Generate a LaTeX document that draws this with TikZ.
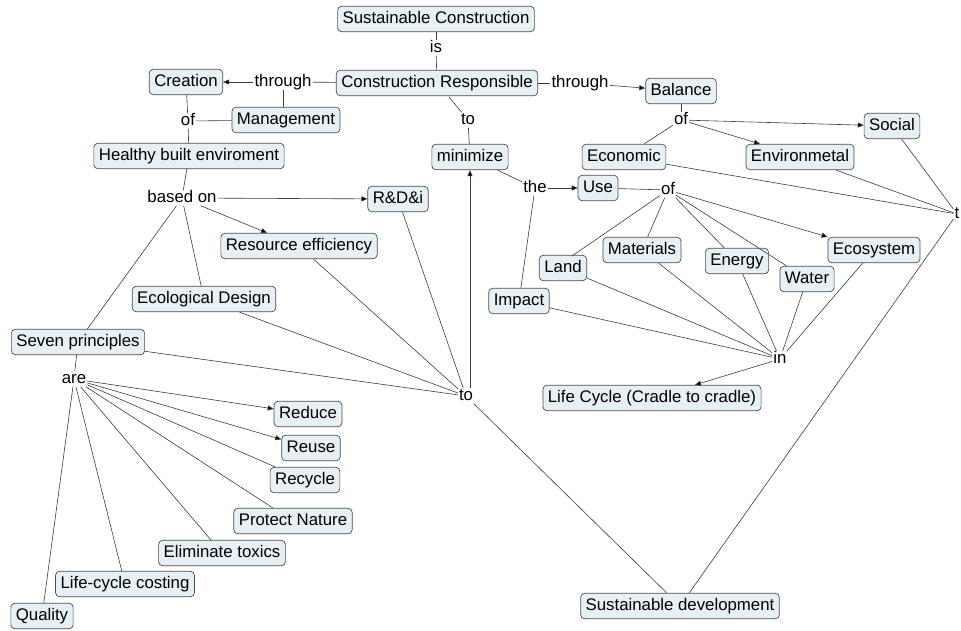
\documentclass[tikz,border=0pt]{standalone}
\usepackage{fontspec}
\setmainfont{Liberation Sans}
\usetikzlibrary{arrows.meta}
\definecolor{boxfill}{RGB}{230,240,245}
\definecolor{boxline}{RGB}{75,75,75}
\definecolor{edgecol}{RGB}{60,60,60}
\begin{document}
\begin{tikzpicture}[x=1pt,y=-1pt,
  font=\fontsize{16.8}{18}\selectfont,
  concept/.style={draw=boxline, fill=boxfill, rounded corners=4pt, line width=0.7pt,
    inner xsep=5pt, inner ysep=5pt, text height=12pt, text depth=3.5pt},
  lab/.style={inner sep=1pt, text height=11pt, text depth=2pt},
  ln/.style={draw=edgecol, line width=0.6pt},
  arr/.style={ln, -{Triangle[length=6pt,width=5pt,fill=black]}}]
\useasboundingbox (0,0) rectangle (961,630);

% concepts
\node[concept] (sc) at (436,19) {Sustainable Construction};
\node[concept] (cr) at (437,83) {Construction Responsible};
\node[concept] (creation) at (186,82) {Creation};
\node[concept] (mgmt) at (286,120) {Management};
\node[concept] (hbe) at (189,156) {Healthy built enviroment};
\node[concept] (mini) at (470,157) {minimize};
\node[concept] (bal) at (681,91) {Balance};
\node[concept] (soc) at (892,126) {Social};
\node[concept] (eco) at (624,157) {Economic};
\node[concept] (env) at (800,157) {Environmetal};
\node[concept] (use) at (598,188) {Use};
\node[concept] (land) at (563,268) {Land};
\node[concept] (mat) at (642,250) {Materials};
\node[concept] (ener) at (737,261) {Energy};
\node[concept] (wat) at (807,279) {Water};
\node[concept] (ecos) at (874,250) {Ecosystem};
\node[concept] (imp) at (519,301) {Impact};
\node[concept] (lc) at (652,398) {Life Cycle (Cradle to cradle)};
\node[concept] (sd) at (680,606) {Sustainable development};
\node[concept] (rdi) at (398,199) {R\&D\&i};
\node[concept] (re) at (299,246) {Resource efficiency};
\node[concept] (ed) at (204,299) {Ecological Design};
\node[concept] (sp) at (78,342) {Seven principles};
\node[concept] (red) at (308,414) {Reduce};
\node[concept] (reu) at (311,448) {Reuse};
\node[concept] (rec) at (305,480) {Recycle};
\node[concept] (pn) at (293,521) {Protect Nature};
\node[concept] (et) at (222,553) {Eliminate toxics};
\node[concept] (lcc) at (125,584) {Life-cycle costing};
\node[concept] (qual) at (42,616) {Quality};

% linking phrases
\node[lab] (is) at (436,48) {is};
\node[lab] (thl) at (283,82) {through};
\node[lab] (ofl) at (188,121) {of};
\node[lab] (tot) at (468,120) {to};
\node[lab] (thr) at (580,83) {through};
\node[lab] (ofb) at (681,120) {of};
\node[lab] (the) at (535,188) {the};
\node[lab] (ofu) at (668,190) {of};
\node[lab] (in) at (780,359) {in};
\node[lab] (tr) at (957,214) {t};
\node[lab] (bo) at (182,198) {based on};
\node[lab] (tob) at (466,396) {to};
\node[lab] (are) at (74,379) {are};

\coordinate (crto) at (449,97);
\coordinate (landtop) at (572,256);

% connectors
\draw[ln] (sc) -- (is);
\draw[ln] (is) -- (cr);
\draw[ln] (cr) -- (thl);
\draw[arr] (thl) -- (creation);
\draw[ln] (thl) -- (thl|-mgmt.north);
\draw[ln] (creation) -- (ofl);
\draw[ln] (mgmt) -- (ofl);
\draw[ln] (ofl) -- (hbe);
\draw[ln] (crto) -- (tot);
\draw[ln] (tot) -- (mini);
\draw[ln] (cr) -- (thr);
\draw[arr] (thr) -- (bal);
\draw[ln] (bal) -- (ofb);
\draw[arr] (ofb) -- (soc);
\draw[arr] (ofb) -- (env.north west -| 760,0);
\draw[ln] (ofb) -- (eco);
\draw[ln] (mini) -- (the);
\draw[arr] (the) -- (use);
\draw[ln] (imp) -- (the);
\draw[ln] (use) -- (ofu);
\draw[ln] (ofu) -- (landtop);
\draw[ln] (ofu) -- (mat);
\draw[ln] (ofu) -- (ener);
\draw[ln] (ofu) -- (wat);
\draw[arr] (ofu) -- (ecos.north west);
\draw[ln] (land) -- (in);
\draw[ln] (mat) -- (in);
\draw[ln] (ener) -- (in);
\draw[ln] (wat) -- (in);
\draw[ln] (ecos) -- (in);
\draw[ln] (imp) -- (in);
\draw[arr] (in) -- (lc);
\draw[ln] (eco) -- (tr);
\draw[ln] (env) -- (tr);
\draw[ln] (soc) -- (tr);
\draw[ln] (tr) -- (sd);
\draw[ln] (hbe) -- (bo);
\draw[arr] (bo) -- (rdi);
\draw[arr] (bo) -- (re);
\draw[ln] (bo) -- (ed);
\draw[ln] (bo) -- (sp);
\draw[ln] (rdi) -- (tob);
\draw[ln] (re) -- (tob);
\draw[ln] (ed) -- (tob);
\draw[ln] (sp) -- (tob);
\draw[arr] (tob.north -| mini) -- (mini);
\draw[ln] (tob) -- (sd);
\draw[ln] (sp) -- (are);
\draw[arr] (are) -- (red);
\draw[arr] (are) -- (reu);
\draw[ln] (are) -- (rec);
\draw[ln] (are) -- (pn);
\draw[ln] (are) -- (et);
\draw[ln] (are) -- (lcc);
\draw[ln] (are) -- (qual);
\end{tikzpicture}
\end{document}
